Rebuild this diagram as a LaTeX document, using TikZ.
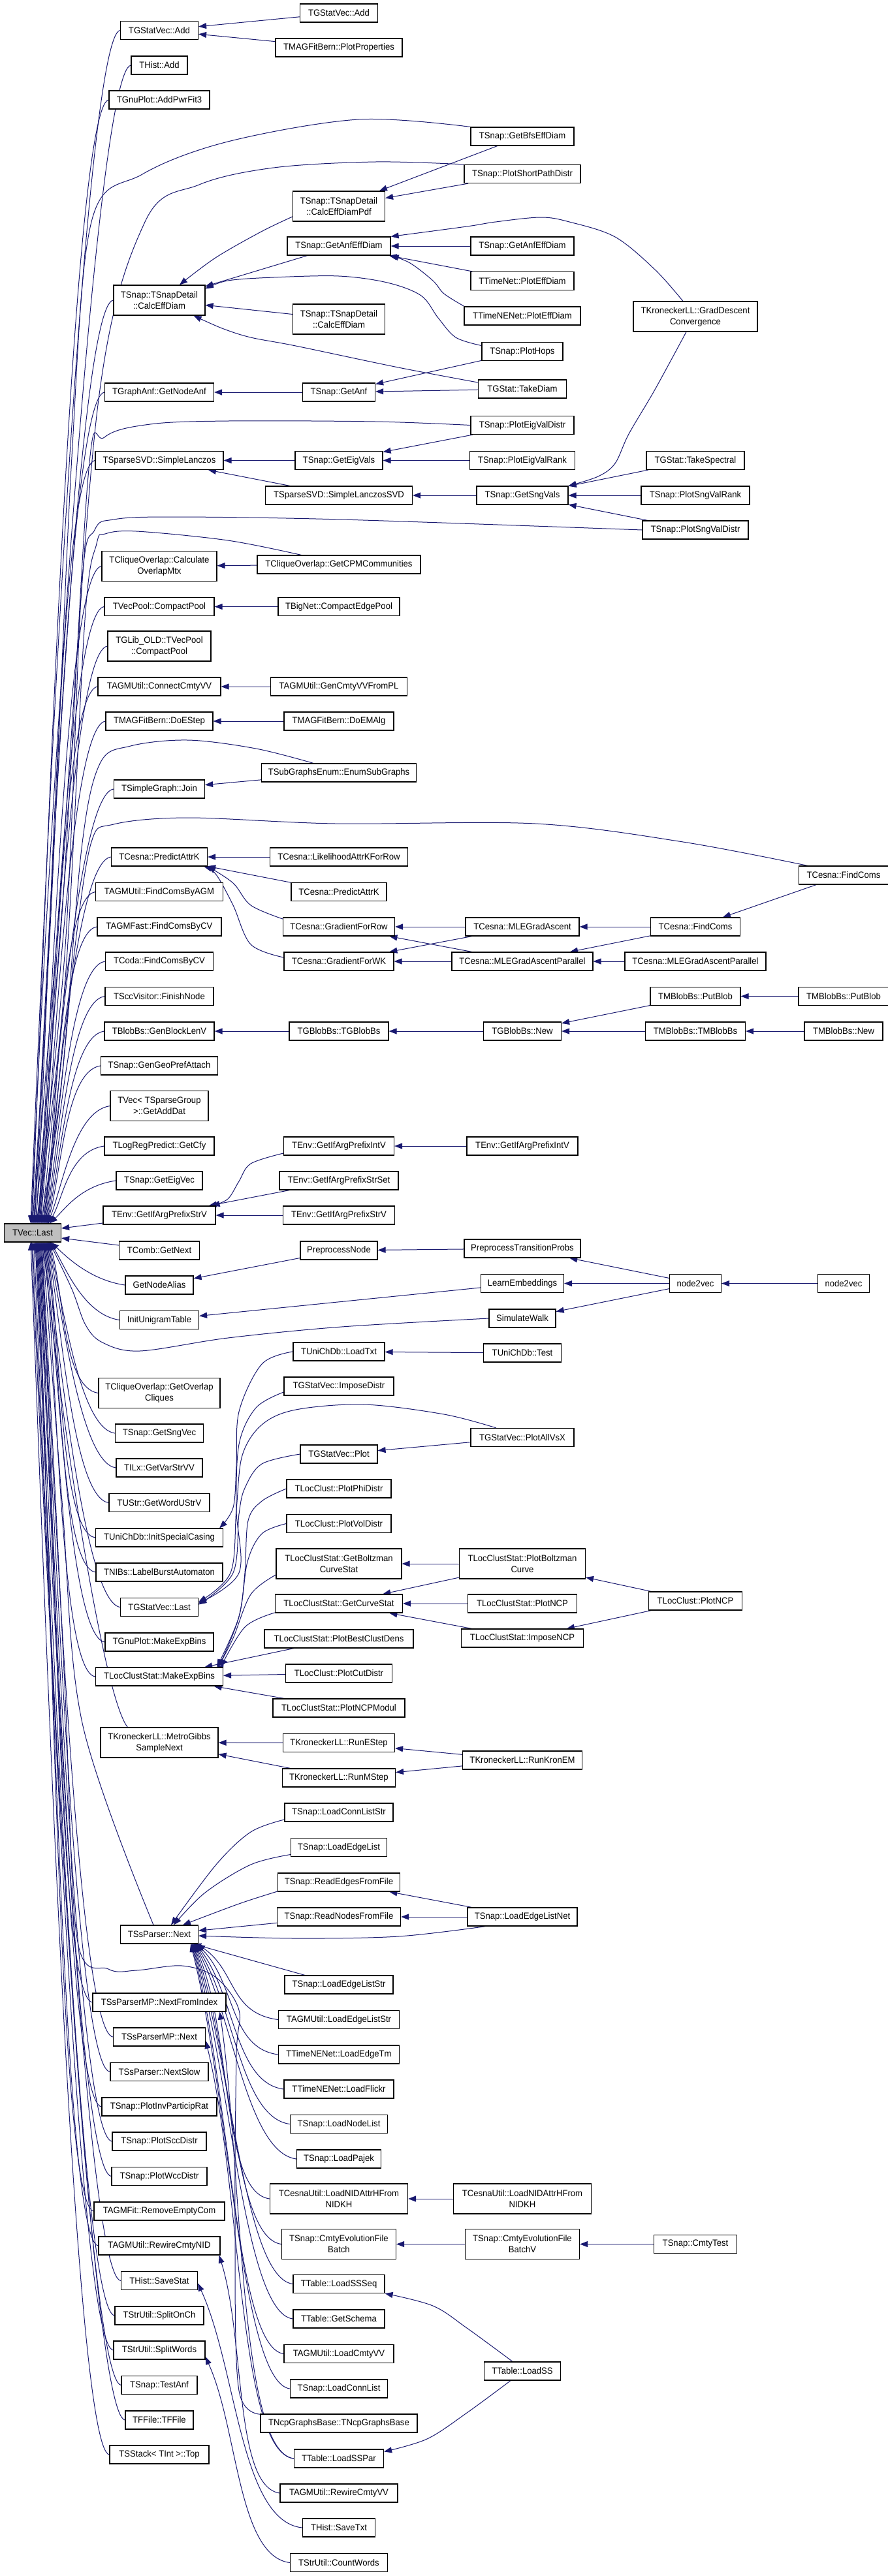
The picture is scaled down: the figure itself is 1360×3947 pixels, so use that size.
\documentclass[tikz,border=0pt]{standalone}
\usepackage{fontspec}
\setmainfont{Liberation Sans}[FakeStretch=0.95]
\usetikzlibrary{arrows.meta}
\definecolor{edgeblue}{HTML}{191970}
\definecolor{lastgrey}{HTML}{BFBFBF}
\pgfdeclarelayer{bg}
\pgfsetlayers{bg,main}
\tikzset{
 fn/.style={draw=black, fill=white, line width=0.6pt, inner sep=0pt, minimum height=14pt, font=\fontsize{6.9}{8.5}\selectfont},
 fn2/.style={fn, minimum height=23pt, align=center},
 bw/.style={minimum width=#1*0.5pt},
 edge/.style={draw=edgeblue, line width=0.5pt, -{Triangle[length=6pt,width=4.5pt]}},
 sm/.style={smooth, tension=0.55},
}
\newcommand\fanU[3]{\draw[edge] (#1.west) .. controls +(-55,8) and +(22,-#3) .. ([xshift=#2pt]last.north);}
\newcommand\fanD[3]{\draw[edge] (#1.west) .. controls +(-55,-8) and +(22,#3) .. ([xshift=#2pt]last.south);}
\newcommand\bund[3]{\draw[edge] (#1.west) .. controls +(-75,-10) and +(60,#3) .. (#2);}
\begin{document}
\begin{tikzpicture}[x=0.5pt, y=-0.5pt]
\useasboundingbox (0,0) rectangle (1360,3947);
% rank 0
\node[fn,bw=87,fill=lastgrey] (last) at (50,1889) {TVec::Last};
% rank 1
\node[fn,bw=119] (a1) at (244,46.5) {TGStatVec::Add};
\node[fn,bw=86] (a2) at (244,100) {THist::Add};
\node[fn,bw=154] (a3) at (244,153) {TGnuPlot::AddPwrFit3};
\node[fn2,bw=140] (a4) at (244,460) {TSnap::TSnapDetail\\::CalcEffDiam};
\node[fn,bw=167] (a5) at (244,601) {TGraphAnf::GetNodeAnf};
\node[fn,bw=196] (a6) at (244,705.5) {TSparseSVD::SimpleLanczos};
\node[fn2,bw=176] (a7) at (244,867.5) {TCliqueOverlap::Calculate\\OverlapMtx};
\node[fn,bw=168] (a8) at (244,929.5) {TVecPool::CompactPool};
\node[fn2,bw=158] (a9) at (244,990) {TGLib\_OLD::TVecPool\\::CompactPool};
\node[fn,bw=188] (a10) at (244,1052) {TAGMUtil::ConnectCmtyVV};
\node[fn,bw=164] (a11) at (244,1105) {TMAGFitBern::DoEStep};
\node[fn,bw=139] (a12) at (244,1209) {TSimpleGraph::Join};
\node[fn,bw=147] (a13) at (244,1313) {TCesna::PredictAttrK};
\node[fn,bw=195] (a14) at (244,1366.5) {TAGMUtil::FindComsByAGM};
\node[fn,bw=190] (a15) at (244,1420) {TAGMFast::FindComsByCV};
\node[fn,bw=165] (a16) at (244,1473) {TCoda::FindComsByCV};
\node[fn,bw=166] (a17) at (244,1526.5) {TSccVisitor::FinishNode};
\node[fn,bw=168] (a18) at (244,1580) {TBlobBs::GenBlockLenV};
\node[fn,bw=179] (a19) at (244,1633) {TSnap::GenGeoPrefAttach};
\node[fn2,bw=150] (a20) at (244,1694.5) {TVec< TSparseGroup\\ >::GetAddDat};
\node[fn,bw=168] (a21) at (244,1756) {TLogRegPredict::GetCfy};
\node[fn,bw=132] (a22) at (244,1809) {TSnap::GetEigVec};
\node[fn,bw=172] (a23) at (244,1862) {TEnv::GetIfArgPrefixStrV};
\node[fn,bw=123] (a24) at (244,1916) {TComb::GetNext};
\node[fn,bw=104] (a25) at (244,1969) {GetNodeAlias};
\node[fn,bw=121] (a26) at (244,2022.5) {InitUnigramTable};
\node[fn2,bw=186] (a27) at (244,2134.5) {TCliqueOverlap::GetOverlap\\Cliques};
\node[fn,bw=135] (a28) at (244,2196) {TSnap::GetSngVec};
\node[fn,bw=132] (a29) at (244,2249) {TILx::GetVarStrVV};
\node[fn,bw=154] (a30) at (244,2302.5) {TUStr::GetWordUStrV};
\node[fn,bw=195] (a31) at (244,2356) {TUniChDb::InitSpecialCasing};
\node[fn,bw=194] (a32) at (244,2409) {TNIBs::LabelBurstAutomaton};
\node[fn,bw=119] (a33) at (244,2462.5) {TGStatVec::Last};
\node[fn,bw=166] (a34) at (244,2516) {TGnuPlot::MakeExpBins};
\node[fn,bw=195] (a35) at (244,2569) {TLocClustStat::MakeExpBins};
\node[fn2,bw=180] (a36) at (244,2670) {TKroneckerLL::MetroGibbs\\SampleNext};
\node[fn,bw=119] (a37) at (244,2964) {TSsParser::Next};
\node[fn,bw=204] (a38) at (244,3068) {TSsParserMP::NextFromIndex};
\node[fn,bw=141] (a39) at (244,3121) {TSsParserMP::Next};
\node[fn,bw=150] (a40) at (244,3174.5) {TSsParser::NextSlow};
\node[fn,bw=176] (a41) at (244,3228) {TSnap::PlotInvParticipRat};
\node[fn,bw=144] (a42) at (244,3281) {TSnap::PlotSccDistr};
\node[fn,bw=146] (a43) at (244,3334.5) {TSnap::PlotWccDistr};
\node[fn,bw=200] (a44) at (244,3388) {TAGMFit::RemoveEmptyCom};
\node[fn,bw=186] (a45) at (244,3441) {TAGMUtil::RewireCmtyNID};
\node[fn,bw=117] (a46) at (244,3494.5) {THist::SaveStat};
\node[fn,bw=136] (a47) at (244,3548) {TStrUtil::SplitOnCh};
\node[fn,bw=140] (a48) at (244,3601) {TStrUtil::SplitWords};
\node[fn,bw=116] (a49) at (244,3654.5) {TSnap::TestAnf};
\node[fn,bw=104] (a50) at (244,3708) {TFFile::TFFile};
\node[fn,bw=152] (a51) at (244,3761) {TSStack< TInt >::Top};
% rank 2
\node[fn,bw=119] (b1) at (519,20) {TGStatVec::Add};
\node[fn,bw=194] (b2) at (519,73) {TMAGFitBern::PlotProperties};
\node[fn2,bw=141] (b3) at (519,316) {TSnap::TSnapDetail\\::CalcEffDiamPdf};
\node[fn,bw=158] (b4) at (519,377) {TSnap::GetAnfEffDiam};
\node[fn2,bw=141] (b5) at (519,489) {TSnap::TSnapDetail\\::CalcEffDiam};
\node[fn,bw=111] (b6) at (519,601) {TSnap::GetAnf};
\node[fn,bw=134] (b7) at (519,705.5) {TSnap::GetEigVals};
\node[fn,bw=225] (b8) at (519,759) {TSparseSVD::SimpleLanczosSVD};
\node[fn,bw=250] (b9) at (519,865) {TCliqueOverlap::GetCPMCommunities};
\node[fn,bw=186] (b10) at (519,929.5) {TBigNet::CompactEdgePool};
\node[fn,bw=209] (b11) at (519,1052) {TAGMUtil::GenCmtyVVFromPL};
\node[fn,bw=168] (b12) at (519,1105) {TMAGFitBern::DoEMAlg};
\node[fn,bw=237] (b13) at (519,1184) {TSubGraphsEnum::EnumSubGraphs};
\node[fn,bw=211] (b14) at (519,1313) {TCesna::LikelihoodAttrKForRow};
\node[fn,bw=146] (b15) at (519,1366.5) {TCesna::PredictAttrK};
\node[fn,bw=171] (b16) at (519,1420) {TCesna::GradientForRow};
\node[fn,bw=168] (b17) at (519,1473) {TCesna::GradientForWK};
\node[fn,bw=152] (b18) at (519,1580) {TGBlobBs::TGBlobBs};
\node[fn,bw=169] (b19) at (519,1756) {TEnv::GetIfArgPrefixIntV};
\node[fn,bw=182] (b20) at (519,1809) {TEnv::GetIfArgPrefixStrSet};
\node[fn,bw=171] (b21) at (519,1862) {TEnv::GetIfArgPrefixStrV};
\node[fn,bw=118] (b22) at (519,1916) {PreprocessNode};
\node[fn,bw=140] (b23) at (519,2071) {TUniChDb::LoadTxt};
\node[fn,bw=168] (b24) at (519,2124) {TGStatVec::ImposeDistr};
\node[fn,bw=118] (b25) at (519,2228) {TGStatVec::Plot};
\node[fn,bw=160] (b26) at (519,2281) {TLocClust::PlotPhiDistr};
\node[fn,bw=160] (b27) at (519,2334.5) {TLocClust::PlotVolDistr};
\node[fn2,bw=192] (b28) at (519,2396) {TLocClustStat::GetBoltzman\\CurveStat};
\node[fn,bw=195] (b29) at (519,2457) {TLocClustStat::GetCurveStat};
\node[fn,bw=228] (b30) at (519,2511) {TLocClustStat::PlotBestClustDens};
\node[fn,bw=163] (b31) at (519,2564) {TLocClust::PlotCutDistr};
\node[fn,bw=202] (b32) at (519,2617) {TLocClustStat::PlotNCPModul};
\node[fn,bw=171] (b33) at (519,2670.5) {TKroneckerLL::RunEStep};
\node[fn,bw=173] (b34) at (519,2724) {TKroneckerLL::RunMStep};
\node[fn,bw=166] (b35) at (519,2777) {TSnap::LoadConnListStr};
\node[fn,bw=147] (b36) at (519,2830.5) {TSnap::LoadEdgeList};
\node[fn,bw=187] (b37) at (519,2884) {TSnap::ReadEdgesFromFile};
\node[fn,bw=189] (b38) at (519,2937) {TSnap::ReadNodesFromFile};
\node[fn,bw=166] (b39) at (519,3041) {TSnap::LoadEdgeListStr};
\node[fn,bw=185] (b40) at (519,3094.5) {TAGMUtil::LoadEdgeListStr};
\node[fn,bw=185] (b41) at (519,3148) {TTimeNENet::LoadEdgeTm};
\node[fn,bw=168] (b42) at (519,3201) {TTimeNENet::LoadFlickr};
\node[fn,bw=149] (b43) at (519,3254.5) {TSnap::LoadNodeList};
\node[fn,bw=129] (b44) at (519,3308) {TSnap::LoadPajek};
\node[fn2,bw=211] (b45) at (519,3369) {TCesnaUtil::LoadNIDAttrHFrom\\NIDKH};
\node[fn2,bw=175] (b46) at (519,3438.5) {TSnap::CmtyEvolutionFile\\Batch};
\node[fn,bw=140] (b47) at (519,3499.5) {TTable::LoadSSSeq};
\node[fn,bw=140] (b48) at (519,3553) {TTable::GetSchema};
\node[fn,bw=168] (b49) at (519,3606.5) {TAGMUtil::LoadCmtyVV};
\node[fn,bw=149] (b50) at (519,3660) {TSnap::LoadConnList};
\node[fn,bw=240] (b51) at (519,3713) {TNcpGraphsBase::TNcpGraphsBase};
\node[fn,bw=137] (b52) at (519,3767) {TTable::LoadSSPar};
\node[fn,bw=180] (b53) at (519,3820) {TAGMUtil::RewireCmtyVV};
\node[fn,bw=111] (b54) at (519,3873) {THist::SaveTxt};
\node[fn,bw=149] (b55) at (519,3926.5) {TStrUtil::CountWords};
% rank 3
\node[fn,bw=158] (c1) at (800,209) {TSnap::GetBfsEffDiam};
\node[fn,bw=178] (c2) at (800,266.5) {TSnap::PlotShortPathDistr};
\node[fn,bw=158] (c3) at (800,377) {TSnap::GetAnfEffDiam};
\node[fn,bw=158] (c4) at (800,430.5) {TTimeNet::PlotEffDiam};
\node[fn,bw=178] (c5) at (800,484) {TTimeNENet::PlotEffDiam};
\node[fn,bw=124] (c6) at (800,538.5) {TSnap::PlotHops};
\node[fn,bw=135] (c7) at (800,596) {TGStat::TakeDiam};
\node[fn,bw=158] (c8) at (800,651.5) {TSnap::PlotEigValDistr};
\node[fn,bw=161] (c9) at (800,705.5) {TSnap::PlotEigValRank};
\node[fn,bw=140] (c10) at (800,759) {TSnap::GetSngVals};
\node[fn,bw=174] (c11) at (800,1420) {TCesna::MLEGradAscent};
\node[fn,bw=216] (c12) at (800,1473) {TCesna::MLEGradAscentParallel};
\node[fn,bw=119] (c13) at (800,1580) {TGBlobBs::New};
\node[fn,bw=170] (c14) at (800,1756) {TEnv::GetIfArgPrefixIntV};
\node[fn,bw=178] (c15) at (800,1913) {PreprocessTransitionProbs};
\node[fn,bw=127] (c16) at (800,1966.5) {LearnEmbeddings};
\node[fn,bw=102] (c17) at (800,2020) {SimulateWalk};
\node[fn,bw=119] (c18) at (800,2073) {TUniChDb::Test};
\node[fn,bw=158] (c19) at (800,2202.5) {TGStatVec::PlotAllVsX};
\node[fn2,bw=193] (c20) at (800,2396) {TLocClustStat::PlotBoltzman\\Curve};
\node[fn,bw=167] (c21) at (800,2457) {TLocClustStat::PlotNCP};
\node[fn,bw=187] (c22) at (800,2510) {TLocClustStat::ImposeNCP};
\node[fn,bw=183] (c23) at (800,2697) {TKroneckerLL::RunKronEM};
\node[fn,bw=168] (c24) at (800,2937) {TSnap::LoadEdgeListNet};
\node[fn2,bw=211] (c25) at (800,3369) {TCesnaUtil::LoadNIDAttrHFrom\\NIDKH};
\node[fn2,bw=175] (c26) at (800,3438.5) {TSnap::CmtyEvolutionFile\\BatchV};
\node[fn,bw=117] (c27) at (800,3633) {TTable::LoadSS};
% rank 4
\node[fn2,bw=190] (d1) at (1065,485) {TKroneckerLL::GradDescent\\Convergence};
\node[fn,bw=150] (d2) at (1065,705.5) {TGStat::TakeSpectral};
\node[fn,bw=166] (d3) at (1065,759) {TSnap::PlotSngValRank};
\node[fn,bw=162] (d4) at (1065,812) {TSnap::PlotSngValDistr};
\node[fn,bw=137] (d5) at (1065,1420) {TCesna::FindComs};
\node[fn,bw=216] (d6) at (1065,1473) {TCesna::MLEGradAscentParallel};
\node[fn,bw=138] (d7) at (1065,1526.5) {TMBlobBs::PutBlob};
\node[fn,bw=153] (d8) at (1065,1580) {TMBlobBs::TMBlobBs};
\node[fn,bw=79] (d9) at (1065,1966.5) {node2vec};
\node[fn,bw=143] (d10) at (1065,2453) {TLocClust::PlotNCP};
\node[fn,bw=127] (d11) at (1065,3438.5) {TSnap::CmtyTest};
% rank 5
\node[fn,bw=137] (e1) at (1292,1341) {TCesna::FindComs};
\node[fn,bw=138] (e2) at (1292,1526.5) {TMBlobBs::PutBlob};
\node[fn,bw=120] (e3) at (1292,1580) {TMBlobBs::New};
\node[fn,bw=79] (e4) at (1292,1966.5) {node2vec};

\begin{pgfonlayer}{bg}
\fill[white] (0,0) rectangle (1360,3947);
% fan into TVec::Last from above
\fanU{a1}{-1.5}{549}
\fanU{a2}{-1}{532}
\fanU{a3}{-0.5}{517}
\fanU{a4}{1}{425}
\fanU{a5}{1.5}{382}
\fanU{a6}{2.5}{351}
\fanU{a7}{4}{302}
\fanU{a8}{4.5}{284}
\fanU{a9}{5}{265}
\fanU{a10}{5.5}{247}
\fanU{a11}{6}{231}
\fanU{a12}{7}{200}
\fanU{a13}{8}{169}
\fanU{a14}{8.5}{153}
\fanU{a15}{9}{137}
\fanU{a16}{9.5}{121}
\fanU{a17}{10}{105}
\fanU{a18}{10.5}{89}
\fanU{a19}{11}{73}
\fanU{a20}{11.5}{54}
\fanU{a21}{12}{36}
\fanU{a22}{13}{20}
\draw[edge] ([yshift=-6pt]a23.west) -- ([yshift=3.5pt]last.east);
\draw[edge] ([yshift=4pt]a24.west) -- ([yshift=-4pt]last.east);
% fan into TVec::Last from below
\fanD{a25}{14}{20}
\fanD{a26}{13.5}{36}
\fanD{a27}{12.5}{69}
\fanD{a28}{12}{88}
\fanD{a29}{11.5}{104}
\fanD{a30}{11}{120}
\fanD{a31}{10.5}{136}
\fanD{a32}{10}{152}
\fanD{a33}{9.5}{168}
\fanD{a34}{9}{184}
\fanD{a35}{8.5}{200}
\draw[edge] ([xshift=21pt]a36.north west) .. controls +(-40,-50) and +(22,230) .. ([xshift=8pt]last.south);
\draw[edge] plot[sm] coordinates {([xshift=-4.5pt]a37.north) (126,2640) (95,2300) ([xshift=7.5pt]last.south)};
\fanD{a38}{6.5}{350}
\fanD{a39}{6}{365}
\fanD{a40}{5.5}{381}
\fanD{a41}{5}{397}
\fanD{a42}{4.5}{413}
\fanD{a43}{4}{429}
\fanD{a44}{3.5}{445}
\fanD{a45}{3}{461}
\fanD{a46}{2.5}{477}
\fanD{a47}{2}{493}
\fanD{a48}{1}{509}
\fanD{a49}{0}{525}
\fanD{a50}{-0.75}{541}
\fanD{a51}{-1.5}{557}
% long curves into TVec::Last
\draw[edge] plot[sm] coordinates {(c1.north west) (549,183) (349,217) (218,267) (140,340) (110,700) (78,1400) ([xshift=0pt]last.north)};
\draw[edge] plot[sm] coordinates {(c2.north west) (575,248) (419,257) (305,283) (222,340) (150,620) (90,1400) ([xshift=0.5pt]last.north)};
\draw[edge] plot[sm] coordinates {(c8.west) (575,646) (349,645) (230,650) (160,670) (135,730) (95,1400) ([xshift=2pt]last.north)};
\draw[edge] plot[sm] coordinates {(d4.west) (523,796) (262,792) (174,796) (145,812) (125,900) (100,1450) ([xshift=3pt]last.north)};
\draw[edge] plot[sm] coordinates {([xshift=34pt]b9.north west) (349,828) (209,814) (161,818) (148,833) (130,950) (100,1500) ([xshift=3.5pt]last.north)};
\draw[edge] plot[sm] coordinates {([xshift=40pt]b13.north west) (392,1147) (288,1134) (200,1143) (153,1170) (125,1300) (95,1650) ([xshift=6.5pt]last.north)};
\draw[edge] plot[sm] coordinates {([xshift=7pt]e1.north west) (1046,1290) (820,1262) (514,1262) (288,1253) (174,1263) (140,1290) (115,1450) (90,1700) ([xshift=7.5pt]last.north)};
\draw[edge] plot[sm] coordinates {(c17.west) (523,2033) (349,2050) (214,2070) (157,2057) (131,2030) (110,1975) ([xshift=13pt]last.south)};
\draw[edge] plot[sm] coordinates {([xshift=6pt]b51.north west) (366,3663) (360,3400) (362,3150) (366,3080) (331,3030) (279,3012) (209,3019) (166,3017) (118,2970) (100,2600) (80,2200) ([xshift=7pt]last.south)};
% top region
\draw[edge] (b1) -- (a1);
\draw[edge] (b2) -- (a1);
\draw[edge] (c1) -- (b3);
\draw[edge] (c2) -- (b3);
\draw[edge] plot[sm] coordinates {([yshift=-8pt]b3.west) (400,355) (330,395) ([xshift=15.5pt]a4.north)};
\draw[edge] (b4) -- (a4);
\draw[edge] (b5) -- (a4);
\draw[edge] plot[sm] coordinates {([yshift=4.5pt]c6.west) (698,517) (671,487) (645,453) (593,433) (519,423) (419,425) (349,430) ([yshift=-3pt]a4.north east)};
\draw[edge] plot[sm] coordinates {([yshift=5pt]c7.west) (610,563) (453,530) (384,517) (340,503) ([xshift=-9pt]a4.south east)};
\draw[edge] (c3) -- (b4);
\draw[edge] (c4) -- (b4);
\draw[edge] plot[sm] coordinates {([yshift=7.5pt]c5.west) (680,450) (663,430) (628,403) (b4.south east)};
\draw[edge] plot[sm] coordinates {([xshift=-9.5pt]d1.north) (1003,413) (942,363) (872,340) (828,333) (759,340) (715,347) (b4.north east)};
\draw[edge] plot[sm] coordinates {([xshift=-7pt]d1.south) (1003,597) (963,665) (942,710) (916,730) (c10.north east)};
\draw[edge] (c6) -- (b6);
\draw[edge] (c7) -- (b6);
\draw[edge] (b6) -- (a5);
\draw[edge] (b7) -- (a6);
\draw[edge] (b8) -- (a6);
\draw[edge] (c8) -- (b7);
\draw[edge] (c9) -- (b7);
\draw[edge] (c10) -- (b8);
\draw[edge] (d2) -- (c10);
\draw[edge] (d3) -- (c10);
\draw[edge] (d4) -- (c10);
\draw[edge] (b9) -- (a7);
\draw[edge] (b10) -- (a8);
\draw[edge] (b11) -- (a10);
\draw[edge] (b12) -- (a11);
\draw[edge] (b13) -- (a12);
% TCesna
\draw[edge] (b14) -- (a13);
\draw[edge] (b15) -- (a13);
\draw[edge] plot[sm] coordinates {([yshift=6pt]b16.west) (384,1387) (357,1353) (a13.south east)};
\draw[edge] plot[sm] coordinates {([yshift=3pt]b17.west) (384,1447) (357,1387) (331,1340) ([xshift=-3pt]a13.south east)};
\draw[edge] (c11) -- (b16);
\draw[edge] (c12) -- (b16);
\draw[edge] (c11) -- (b17);
\draw[edge] (c12) -- (b17);
\draw[edge] (d5) -- (c11);
\draw[edge] (d5) -- (c12);
\draw[edge] (d6) -- (c12);
\draw[edge] (e1) -- (d5);
% blobs
\draw[edge] (b18) -- (a18);
\draw[edge] (c13) -- (b18);
\draw[edge] (d7) -- (c13);
\draw[edge] (d8) -- (c13);
\draw[edge] (e2) -- (d7);
\draw[edge] (e3) -- (d8);
% env
\draw[edge] plot[sm] coordinates {([yshift=-5.5pt]b19.west) (384,1783) (366,1810) (349,1837) ([xshift=-3pt]a23.north east)};
\draw[edge] (b20) -- (a23);
\draw[edge] (b21) -- (a23);
\draw[edge] (c14) -- (b19);
% node2vec
\draw[edge] (b22) -- (a25);
\draw[edge] (c15) -- (b22);
\draw[edge] (d9) -- (c15);
\draw[edge] (d9) -- (c16);
\draw[edge] (e4) -- (d9);
\draw[edge] (c16) -- (a26);
\draw[edge] (d9) -- (c17);
% unichdb, gstatvec
\draw[edge] (c18) -- (b23);
\draw[edge] plot[sm] coordinates {(b23.west) (401,2090) (366,2163) (362,2247) (357,2310) ([xshift=-3pt]a31.north east)};
\draw[edge] plot[sm] coordinates {([yshift=-4.5pt]b24.west) (392,2157) (366,2213) (362,2313) (366,2410) ([yshift=3pt]a33.east)};
\draw[edge] plot[sm] coordinates {(b25.west) (401,2243) (375,2280) (366,2320) (357,2410) ([yshift=2pt]a33.east)};
\draw[edge] plot[sm] coordinates {([xshift=-20pt]c19.north) (680,2167) (558,2152) (453,2160) (401,2183) (371,2230) (362,2313) (353,2410) ([yshift=4pt]a33.east)};
\draw[edge] (c19) -- (b25);
% locclust
\draw[edge] plot[sm] coordinates {(b26.west) (401,2300) (380,2330) (375,2410) (366,2477) (340,2543) ([xshift=-6pt]a35.north east)};
\draw[edge] plot[sm] coordinates {(b27.west) (401,2350) (379,2393) (366,2477) ([xshift=-5pt]a35.north east)};
\draw[edge] plot[sm] coordinates {([yshift=-8.5pt]b28.west) (384,2443) (357,2510) ([xshift=-4pt]a35.north east)};
\draw[edge] plot[sm] coordinates {([yshift=-7pt]b29.west) (375,2493) ([xshift=-2pt]a35.north east)};
\draw[edge] (b30) -- (a35);
\draw[edge] (b31) -- (a35);
\draw[edge] (b32) -- (a35);
\draw[edge] (c20) -- (b28);
\draw[edge] (c20) -- (b29);
\draw[edge] (c21) -- (b29);
\draw[edge] (c22) -- (b29);
\draw[edge] (d10) -- (c20);
\draw[edge] (d10) -- (c22);
% kronecker
\draw[edge] (b33) -- (a36);
\draw[edge] (b34) -- (a36);
\draw[edge] (c23) -- (b33);
\draw[edge] (c23) -- (b34);
% ssparser
\draw[edge] plot[sm] coordinates {([yshift=-5.5pt]b35.west) (384,2807) (331,2857) ([xshift=9pt]a37.north)};
\draw[edge] plot[sm] coordinates {([yshift=-5.5pt]b36.west) (384,2857) (314,2900) ([xshift=11pt]a37.north)};
\draw[edge] plot[sm] coordinates {([yshift=-7pt]b37.west) (366,2917) ([xshift=18pt]a37.north)};
\draw[edge] (b38) -- (a37);
\draw[edge] plot[sm] coordinates {([xshift=14pt]c24.south west) (610,2967) (453,2970) ([yshift=-1pt]a37.east)};
\draw[edge] (c24) -- (b37);
\draw[edge] (c24) -- (b38);
\draw[edge] (b39) -- (a37);
\bund{b40}{[xshift=-1pt]a37.south east}{41}
\bund{b41}{[xshift=-1.5pt]a37.south east}{59}
\bund{b42}{[xshift=-2pt]a37.south east}{78}
\bund{b43}{[xshift=-2.5pt]a37.south east}{96}
\bund{b44}{[xshift=-3pt]a37.south east}{115}
\bund{b45}{[xshift=-3.5pt]a37.south east}{136}
\bund{b46}{[xshift=-4pt]a37.south east}{160}
\bund{b47}{[xshift=-4.5pt]a37.south east}{182}
\bund{b48}{[xshift=-5pt]a37.south east}{201}
\bund{b49}{[xshift=-5.5pt]a37.south east}{220}
\bund{b50}{[xshift=-6pt]a37.south east}{239}
\draw[edge] (b52.west) .. controls +(-85,-10) and +(35,240) .. ([xshift=-5pt]a38.south east);
\draw[edge] (b52.west) .. controls +(-85,-10) and +(55,224) .. ([yshift=-3pt]a39.east);
\draw[edge] (b53.west) .. controls +(-70,-10) and +(40,128) .. ([xshift=-1pt]a45.south east);
\draw[edge] (b54.west) .. controls +(-95,-10) and +(60,131) .. ([yshift=-2pt]a46.east);
\draw[edge] (b55.west) .. controls +(-80,-10) and +(50,110) .. ([yshift=-5pt]a48.east);
\draw[edge] (c25) -- (b45);
\draw[edge] (c26) -- (b46);
\draw[edge] (d11) -- (c26);
\draw[edge] plot[sm] coordinates {([xshift=-7.5pt]c27.north) (715,3567) (663,3533) (b47.south east)};
\draw[edge] plot[sm] coordinates {([xshift=-9pt]c27.south) (715,3697) (654,3737) ([yshift=-2pt]b52.north east)};
\end{pgfonlayer}
\end{tikzpicture}
\end{document}
